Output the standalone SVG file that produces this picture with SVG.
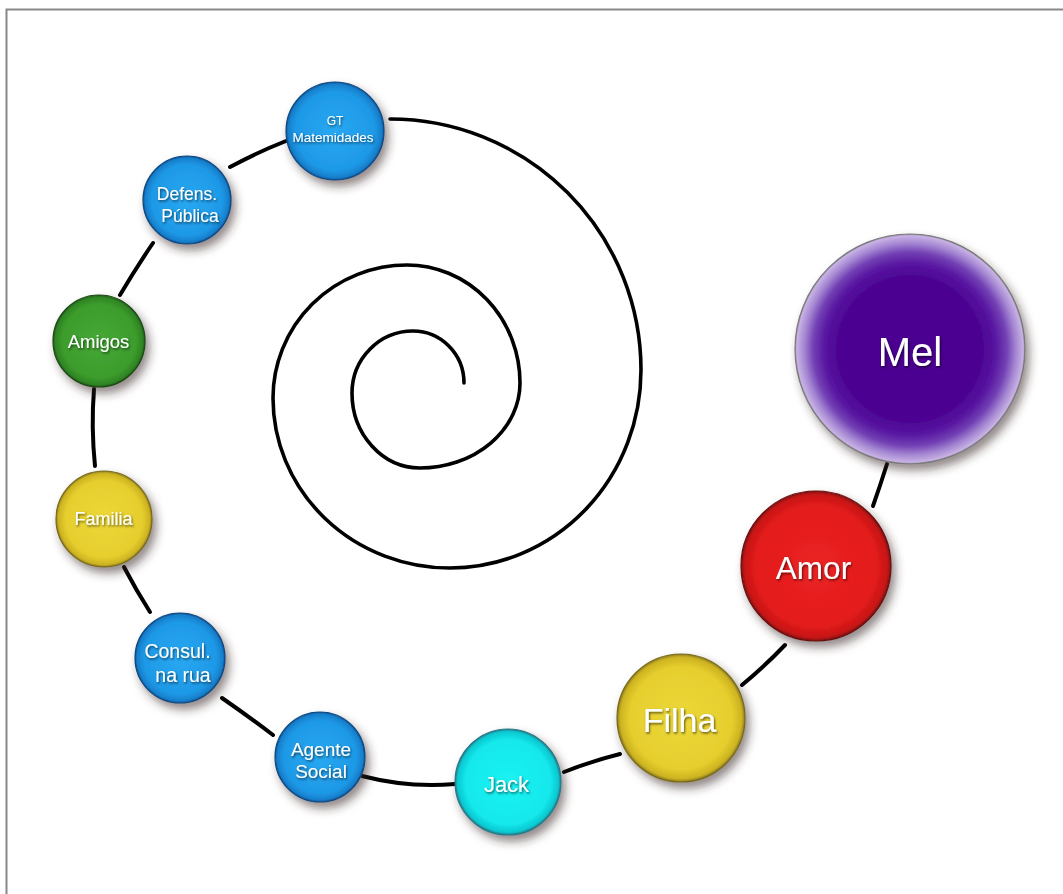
<svg xmlns="http://www.w3.org/2000/svg" width="1063" height="894" viewBox="0 0 1063 894">
  <defs>
    <style>
      .link { fill: none; stroke: #000; stroke-width: 4; stroke-linecap: round; }
      .spiral { fill: none; stroke: #000; stroke-width: 3.6; stroke-linecap: round; }
      .ball { stroke-width: 1.2; filter: url(#ballShadow); }
      .lbl { font-family: "Liberation Sans", Arial, sans-serif; fill: #fff; text-anchor: middle; filter: url(#textShadow); }
      .frame { stroke: #888; stroke-width: 2; fill: none; }
    </style>
    <filter id="ballShadow" x="-30%" y="-30%" width="170%" height="175%">
      <feDropShadow dx="4" dy="6" stdDeviation="5" flood-color="#3a2626" flood-opacity="0.55"/>
    </filter>
    <filter id="textShadow" x="-20%" y="-40%" width="140%" height="190%">
      <feDropShadow dx="1" dy="1.5" stdDeviation="1" flood-color="#000" flood-opacity="0.6"/>
    </filter>
    <radialGradient id="gBlue">
      <stop offset="0" stop-color="#28A8F2"/>
      <stop offset="0.8" stop-color="#1E99E7"/>
      <stop offset="0.95" stop-color="#1780CC"/>
      <stop offset="1" stop-color="#10549A"/>
    </radialGradient>
    <radialGradient id="gGreen">
      <stop offset="0" stop-color="#46A936"/>
      <stop offset="0.8" stop-color="#3C9C2C"/>
      <stop offset="0.95" stop-color="#2F8424"/>
      <stop offset="1" stop-color="#1E5A18"/>
    </radialGradient>
    <radialGradient id="gYellow">
      <stop offset="0" stop-color="#ECD838"/>
      <stop offset="0.8" stop-color="#E6CE2E"/>
      <stop offset="0.95" stop-color="#CDB320"/>
      <stop offset="1" stop-color="#8A7A20"/>
    </radialGradient>
    <radialGradient id="gCyan">
      <stop offset="0" stop-color="#1CF2F2"/>
      <stop offset="0.8" stop-color="#12E8EC"/>
      <stop offset="0.95" stop-color="#10C8D0"/>
      <stop offset="1" stop-color="#1A7A8A"/>
    </radialGradient>
    <radialGradient id="gRed">
      <stop offset="0" stop-color="#EA2222"/>
      <stop offset="0.8" stop-color="#E41C1C"/>
      <stop offset="0.95" stop-color="#C81515"/>
      <stop offset="1" stop-color="#801010"/>
    </radialGradient>
    <!-- dark violet core fading softly to a pale lilac rim -->
    <radialGradient id="gPurple">
      <stop offset="0" stop-color="#4A0090"/>
      <stop offset="0.62" stop-color="#4C0392"/>
      <stop offset="0.74" stop-color="#5714A0"/>
      <stop offset="0.84" stop-color="#7240B4"/>
      <stop offset="0.92" stop-color="#A486D2"/>
      <stop offset="0.985" stop-color="#C8B2E4"/>
      <stop offset="1" stop-color="#8A8098"/>
    </radialGradient>
  </defs>

  <rect width="1063" height="894" fill="#fff"/>
  <!-- frame: top and left edges only -->
  <path class="frame" d="M6.5 894 V9.5 H1063"/>

  <!-- connectors -->
  <g id="connectors">
    <path class="spiral" d="M390 119 A251 251 0 0 1 641 370 A191 198 0 0 1 450 568 A177 170 0 0 1 273 398 A134 133 0 0 1 407 265 A113 118 0 0 1 520 383 A100 85 0 0 1 420 468 A68 75 0 0 1 352 393 A61 62 0 0 1 413 331 A51 52 0 0 1 464 383"/>
    <path class="link" d="M230 167 Q258 152 286 141"/>
    <path class="link" d="M120 295 Q136 268 153 243"/>
    <path class="link" d="M94 389 Q91 427 95 466"/>
    <path class="link" d="M124 567 Q136 590 150 612"/>
    <path class="link" d="M222 698 Q248 716 273 735"/>
    <path class="link" d="M362 776 Q408 788 455 784"/>
    <path class="link" d="M564 772 Q592 761 620 754"/>
    <path class="link" d="M742 685 Q765 666 785 645"/>
    <path class="link" d="M887 464 Q880 486 873 506"/>
  </g>

  <g id="node-gt">
    <circle class="ball" cx="335" cy="131" r="49" fill="url(#gBlue)" stroke="#0d4a80"/>
    <text class="lbl" x="335" y="125" font-size="12">GT</text>
    <text class="lbl" x="333" y="142" font-size="13.5">Matemidades</text>
  </g>
  <g id="node-defens">
    <circle class="ball" cx="187" cy="200" r="44" fill="url(#gBlue)" stroke="#0d4a80"/>
    <text class="lbl" x="187" y="200" font-size="17.5">Defens.</text>
    <text class="lbl" x="190" y="222" font-size="17.5">Pública</text>
  </g>
  <g id="node-amigos">
    <circle class="ball" cx="99" cy="341" r="46" fill="url(#gGreen)" stroke="#1e4a14"/>
    <text class="lbl" x="98.5" y="348" font-size="18.5">Amigos</text>
  </g>
  <g id="node-familia">
    <circle class="ball" cx="104" cy="519" r="48" fill="url(#gYellow)" stroke="#7a6a18"/>
    <text class="lbl" x="103.5" y="525" font-size="18">Familia</text>
  </g>
  <g id="node-consul">
    <circle class="ball" cx="180" cy="658" r="45" fill="url(#gBlue)" stroke="#0d4a80"/>
    <text class="lbl" x="177.5" y="658" font-size="19.5">Consul.</text>
    <text class="lbl" x="183" y="682" font-size="19.5">na rua</text>
  </g>
  <g id="node-agente">
    <circle class="ball" cx="320" cy="757" r="45" fill="url(#gBlue)" stroke="#0d4a80"/>
    <text class="lbl" x="321" y="756" font-size="19">Agente</text>
    <text class="lbl" x="321" y="778" font-size="19">Social</text>
  </g>
  <g id="node-jack">
    <circle class="ball" cx="508" cy="782" r="53" fill="url(#gCyan)" stroke="#2a7a88"/>
    <text class="lbl" x="506.5" y="792" font-size="22">Jack</text>
  </g>
  <g id="node-filha">
    <circle class="ball" cx="681" cy="718" r="64" fill="url(#gYellow)" stroke="#7a6a18"/>
    <text class="lbl" x="679.5" y="732" font-size="34">Filha</text>
  </g>
  <g id="node-amor">
    <circle class="ball" cx="816" cy="566" r="75" fill="url(#gRed)" stroke="#6a1010"/>
    <text class="lbl" x="813.5" y="579" font-size="31.5">Amor</text>
  </g>
  <g id="node-mel">
    <circle class="ball" cx="910" cy="349" r="115" fill="url(#gPurple)" stroke="#7a7a7a"/>
    <text class="lbl" x="910" y="366" font-size="40">Mel</text>
  </g>
</svg>
